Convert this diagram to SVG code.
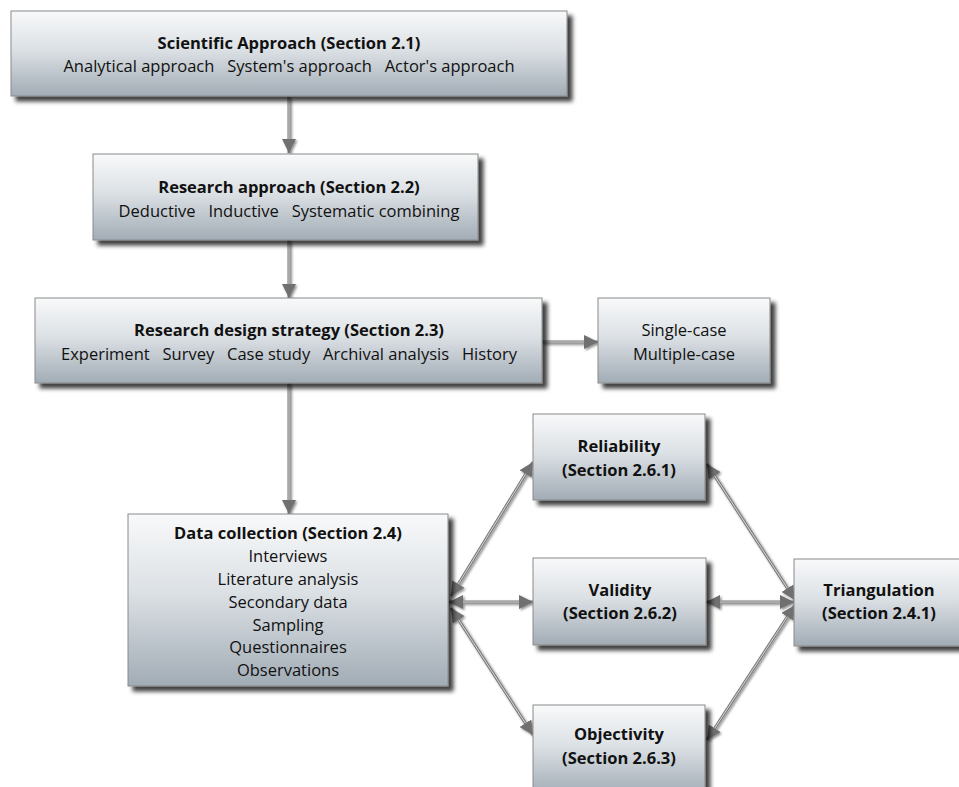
<svg xmlns="http://www.w3.org/2000/svg" width="959" height="787" viewBox="0 0 959 787">
  <defs>
    <linearGradient id="boxFill" x1="0" y1="0" x2="0" y2="1">
      <stop offset="0" stop-color="#f8f9fa"/>
      <stop offset="0.45" stop-color="#dce1e5"/>
      <stop offset="1" stop-color="#a2acb5"/>
    </linearGradient>
    <filter id="boxShadow" x="-10%" y="-10%" width="125%" height="130%">
      <feDropShadow dx="5" dy="5" stdDeviation="2.2" flood-color="#000" flood-opacity="0.75"/>
    </filter>
    <filter id="wireShadow" x="-20%" y="-20%" width="140%" height="140%">
      <feDropShadow dx="1.5" dy="1.5" stdDeviation="0.8" flood-color="#000" flood-opacity="0.45"/>
    </filter>
    <marker id="head" viewBox="0 0 14 14" markerWidth="14" markerHeight="14" refX="14" refY="7" orient="auto-start-reverse" markerUnits="userSpaceOnUse">
      <path d="M0,0 L14,7 L0,14 Z" fill="#6f6f6f"/>
    </marker>
  </defs>
  <style>
    .box { fill: url(#boxFill); stroke: #8a8a8a; stroke-width: 1; filter: url(#boxShadow); }
    text { font-family: "Open Sans", "Liberation Sans", sans-serif; font-size: 16.5px; fill: #111; text-anchor: middle; white-space: pre; }
    .t { font-weight: bold; }
    .wire { fill: none; stroke: #7c7c7c; stroke-width: 3; }
    .core { fill: none; stroke: #d6d6d6; stroke-width: 1; }
    .one { marker-end: url(#head); }
    .two { marker-start: url(#head); marker-end: url(#head); }
  </style>

  <rect width="959" height="787" fill="#ffffff"/>

  <!-- connectors -->
  <g id="connectors" filter="url(#wireShadow)">
    <path class="wire one" d="M289,97 L289,153"/>
    <path class="core" d="M289,97 L289,139"/>
    <path class="wire one" d="M289,240 L289,298"/>
    <path class="core" d="M289,240 L289,284"/>
    <path class="wire one" d="M289,383 L289,514"/>
    <path class="core" d="M289,383 L289,500"/>
    <path class="wire one" d="M542,342 L598,342"/>
    <path class="core" d="M542,342 L584,342"/>

    <path class="wire two" d="M451,596 L533,462"/>
    <path class="core" d="M458.3,584.1 L525.7,473.9"/>
    <path class="wire two" d="M449,602 L533,602"/>
    <path class="core" d="M463,602 L519,602"/>
    <path class="wire two" d="M451,608 L533,735"/>
    <path class="core" d="M458.6,619.8 L525.4,723.2"/>

    <path class="wire two" d="M707,464 L795,600"/>
    <path class="core" d="M714.6,475.8 L787.4,588.2"/>
    <path class="wire two" d="M706,602 L794,602"/>
    <path class="core" d="M720,602 L780,602"/>
    <path class="wire two" d="M707,740 L795,605"/>
    <path class="core" d="M714.6,728.3 L787.4,616.7"/>
  </g>

  <g id="scientific-approach">
    <rect class="box" x="11" y="11" width="556" height="85"/>
    <text class="t" x="289" y="49">Scientific Approach (Section 2.1)</text>
    <text x="289" y="72">Analytical approach   System's approach   Actor's approach</text>
  </g>

  <g id="research-approach">
    <rect class="box" x="93" y="154" width="385" height="86"/>
    <text class="t" x="289" y="193">Research approach (Section 2.2)</text>
    <text x="289" y="217">Deductive   Inductive   Systematic combining</text>
  </g>

  <g id="research-design">
    <rect class="box" x="35" y="298" width="507" height="85"/>
    <text class="t" x="289" y="336">Research design strategy (Section 2.3)</text>
    <text x="289" y="360">Experiment   Survey   Case study   Archival analysis   History</text>
  </g>

  <g id="case-type">
    <rect class="box" x="598" y="298" width="172" height="85"/>
    <text x="684" y="336">Single-case</text>
    <text x="684" y="360">Multiple-case</text>
  </g>

  <g id="data-collection">
    <rect class="box" x="128" y="514" width="320" height="172"/>
    <text class="t" x="288" y="539">Data collection (Section 2.4)</text>
    <text x="288" y="562">Interviews</text>
    <text x="288" y="585">Literature analysis</text>
    <text x="288" y="608">Secondary data</text>
    <text x="288" y="631">Sampling</text>
    <text x="288" y="653">Questionnaires</text>
    <text x="288" y="676">Observations</text>
  </g>

  <g id="reliability">
    <rect class="box" x="533" y="414" width="172" height="86"/>
    <text class="t" x="619" y="452">Reliability</text>
    <text class="t" x="619" y="476">(Section 2.6.1)</text>
  </g>

  <g id="validity">
    <rect class="box" x="533" y="558" width="173" height="87"/>
    <text class="t" x="620" y="596">Validity</text>
    <text class="t" x="620" y="619">(Section 2.6.2)</text>
  </g>

  <g id="objectivity">
    <rect class="box" x="533" y="705" width="172" height="90"/>
    <text class="t" x="619" y="740">Objectivity</text>
    <text class="t" x="619" y="764">(Section 2.6.3)</text>
  </g>

  <g id="triangulation">
    <rect class="box" x="794" y="559" width="175" height="87"/>
    <text class="t" x="879" y="596">Triangulation</text>
    <text class="t" x="879" y="619">(Section 2.4.1)</text>
  </g>
</svg>
